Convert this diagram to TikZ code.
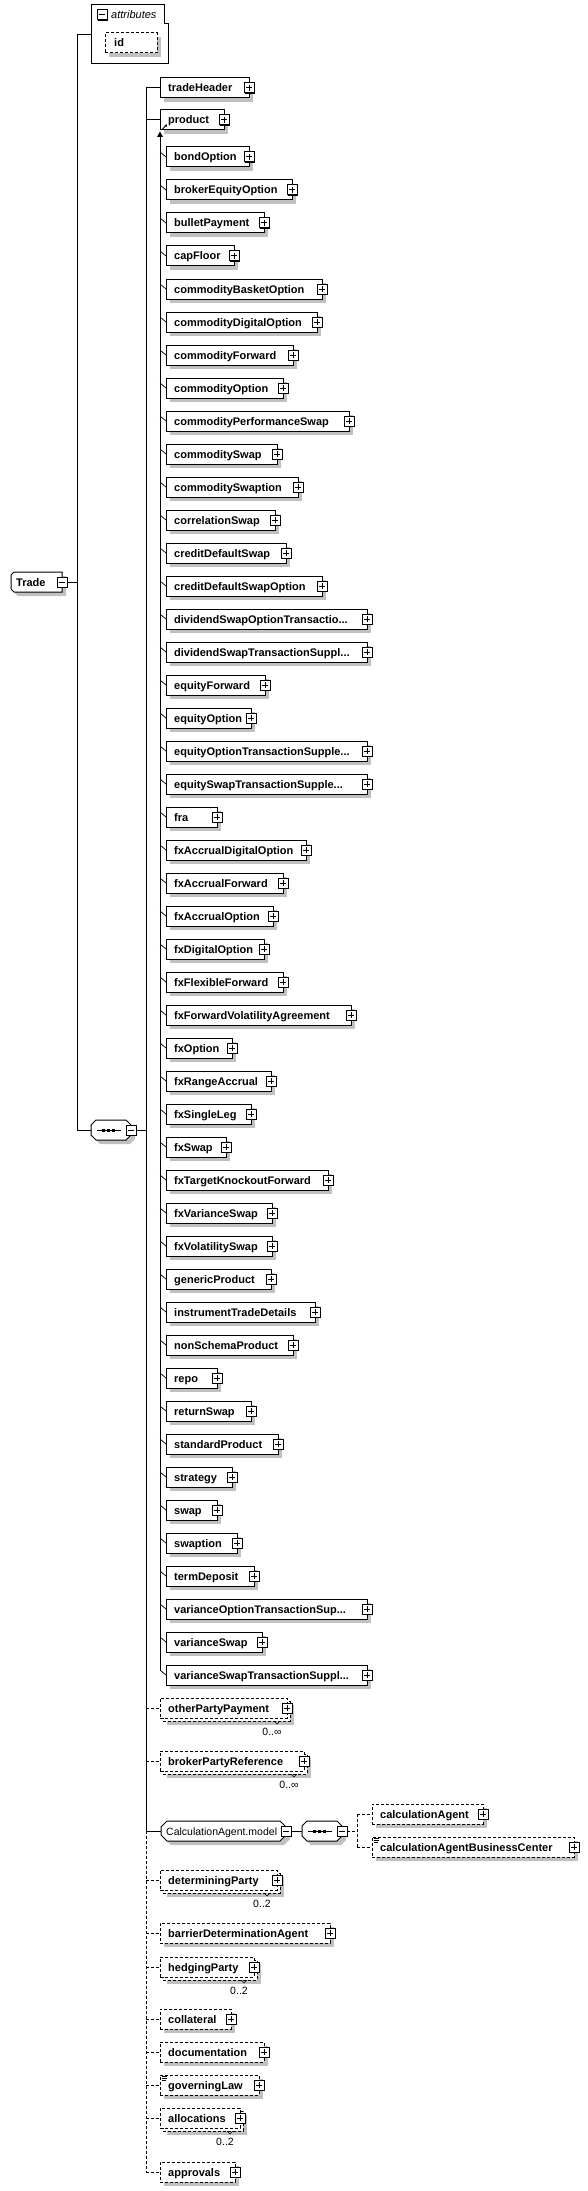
\documentclass[tikz,border=0pt]{standalone}
\usepackage{fontspec}
\setmainfont{Liberation Sans}
\usetikzlibrary{calc,arrows.meta}
\definecolor{shd}{RGB}{192,192,192}
\newcommand{\tdots}{...}
\tikzset{
  ln/.style={line width=1pt},
  dsh/.style={line width=1pt, dash pattern=on 3pt off 2pt},
  elbox/.style={draw=black, fill=white, line width=1pt, minimum height=20pt, inner sep=0pt, outer sep=0pt, anchor=north west},
  optbox/.style={elbox, dash pattern=on 3pt off 2pt},
  eltext/.style={font=\fontsize{11}{13}\selectfont\bfseries, inner sep=0pt, anchor=base west},
  occ/.style={font=\fontsize{10.5}{12}\selectfont, inner sep=0pt},
  grptext/.style={font=\fontsize{10.5}{12}\selectfont, inner sep=0pt, anchor=base west},
}
\newcommand{\pbox}[3]{%
  \fill[black] (#1-4,#2-4) rectangle (#1+6,#2+6);
  \filldraw[fill=white,draw=black,line width=1pt] (#1-5,#2-5) rectangle (#1+5,#2+5);
  \draw[line width=1pt] (#1-3,#2) -- (#1+3,#2);
  \ifnum#3=1 \draw[line width=1pt] (#1,#2-3) -- (#1,#2+3);\fi
}
\newcommand{\relem}[5]{%
  \fill[shd] (#2+4,#3+4) rectangle (#4+4,#3+24);
  \node[elbox, minimum width={#4-#2}] (#1) at (#2,#3) {};
  \node[eltext] (#1t) at ($(#1.west)+(8,4)$) {#5};
  \pbox{#4}{#3+10}{1}
}
\newcommand{\oelem}[5]{%
  \fill[shd] (#2+4,#3+4) rectangle (#4+4,#3+24);
  \node[optbox, minimum width={#4-#2}] (#1) at (#2,#3) {};
  \node[eltext] (#1t) at ($(#1.west)+(8,4)$) {#5};
  \pbox{#4}{#3+10}{1}
}
\newcommand{\melem}[6]{%
  \fill[shd] (#2+7,#3+7) rectangle (#4+7,#3+27);
  \draw[dsh, fill=white] (#2+3,#3+3) rectangle (#4+3,#3+23);
  \node[optbox, minimum width={#4-#2}] (#1) at (#2,#3) {};
  \node[eltext] (#1t) at ($(#1.west)+(8,4)$) {#5};
  \pbox{#4}{#3+10}{1}
  \draw[line width=0.6pt] (#4-13,#3+23) -- (#4-10,#3+26) -- (#4-7,#3+23);
  \node[occ] (#1o) at (#4-15,#3+34) {#6};
}
\newcommand{\docicon}[2]{%
  \draw[line width=0.8pt] (#1+1.5,#2+1.5) -- (#1+6.5,#2+1.5) (#1+1.5,#2+3.5) -- (#1+6.5,#2+3.5) (#1+1.5,#2+5.5) -- (#1+5.5,#2+5.5);
}
\newcommand{\octo}[5]{%
  \begin{scope}[shift={(4,4)}]
  \fill[shd] (#1+#5,#2) -- (#3-#5,#2) -- (#3,#2+#5) -- (#3,#4-#5) -- (#3-#5,#4) -- (#1+#5,#4) -- (#1,#4-#5) -- (#1,#2+#5) -- cycle;
  \end{scope}
  \filldraw[fill=white, draw=black, line width=1pt] (#1+#5,#2) -- (#3-#5,#2) -- (#3,#2+#5) -- (#3,#4-#5) -- (#3-#5,#4) -- (#1+#5,#4) -- (#1,#4-#5) -- (#1,#2+#5) -- cycle;
}
\newcommand{\seqsym}[3]{%
  \octo{#1}{#2}{#1+40}{#2+20}{5}
  \draw[line width=1pt] (#1+6,#2+10) -- (#1+30,#2+10);
  \foreach \dd in {-5,0,5} \fill (#1+17+\dd-1.5,#2+8.5) rectangle (#1+17+\dd+1.5,#2+11.5);
  \pbox{#1+40}{#2+10}{0}
  \coordinate (#3w) at (#1,#2+10);
  \coordinate (#3e) at (#1+45,#2+10);
}
\begin{document}
\begin{tikzpicture}[x=1pt,y=-1pt]
\useasboundingbox (0,0) rectangle (587,2191);
\fill[white] (0,0) rectangle (587,2191);

% attributes
\filldraw[fill=white,draw=black,line width=1pt] (91,5) -- (164,5) -- (164,24) -- (168,24) -- (168,64) -- (91,64) -- cycle;
\pbox{102}{15}{0}
\node[font=\fontsize{11}{13}\selectfont\itshape, inner sep=0pt, anchor=base west] (attrt) at (111,19) {attributes};
\fill[shd] (109,37) rectangle (161,57);
\node[optbox, minimum width=52pt] (id) at (105,33) {};
\node[eltext] (idt) at ($(id.west)+(9,4)$) {id};
\coordinate (attr) at (91,35);

% Trade
\begin{scope}[shift={(4,4)}]
\fill[shd] (14,572) -- (62,572) -- (62,592) -- (14,592) -- (11,589) -- (11,575) -- cycle;
\end{scope}
\filldraw[fill=white,draw=black,line width=1pt] (14,572) -- (62,572) -- (62,592) -- (14,592) -- (11,589) -- (11,575) -- cycle;
\node[eltext] (tradet) at (16,586) {Trade};
\pbox{62}{582}{0}
\coordinate (trade) at (67,582);

% sequence under Trade
\seqsym{91}{1120}{seqA}

% top children
\relem{th}{160}{78}{249}{tradeHeader}
\relem{prod}{160}{110}{224}{product}
\draw[-{Stealth[length=2.5pt,width=3pt]}, line width=0.9pt] (162.5,129) -- (167,124.5);

% substitution group line
\fill (157,137) -- (160,131.5) -- (163,137) -- cycle;
\draw[ln] (160,136) -- (160,1670);

\foreach \rx/\nm [count=\idx] in {249/bondOption, 292/brokerEquityOption, 264/bulletPayment, 234/capFloor, 322/commodityBasketOption, 317/commodityDigitalOption, 293/commodityForward, 283/commodityOption, 349/commodityPerformanceSwap, 277/commoditySwap, 298/commoditySwaption, 275/correlationSwap, 286/creditDefaultSwap, 322/creditDefaultSwapOption, 367/dividendSwapOptionTransactio\tdots, 367/dividendSwapTransactionSuppl\tdots, 265/equityForward, 251/equityOption, 367/equityOptionTransactionSupple\tdots, 367/equitySwapTransactionSupple\tdots, 217/fra, 306/fxAccrualDigitalOption, 283/fxAccrualForward, 273/fxAccrualOption, 264/fxDigitalOption, 283/fxFlexibleForward, 351/fxForwardVolatilityAgreement, 232/fxOption, 271/fxRangeAccrual, 251/fxSingleLeg, 226/fxSwap, 328/fxTargetKnockoutForward, 272/fxVarianceSwap, 272/fxVolatilitySwap, 271/genericProduct, 315/instrumentTradeDetails, 293/nonSchemaProduct, 217/repo, 251/returnSwap, 278/standardProduct, 232/strategy, 217/swap, 237/swaption, 254/termDeposit, 367/varianceOptionTransactionSup\tdots, 262/varianceSwap, 367/varianceSwapTransactionSuppl\tdots}{
  \pgfmathsetmacro\yy{147+33*(\idx-1)}
  \draw[line width=0.7pt] (160,\yy+5) -- (166,\yy+10);
  \relem{m\idx}{166}{\yy}{\rx}{\nm}
}

% optional children
\melem{opp}{160}{1698}{287}{otherPartyPayment}{0..∞}
\melem{bpr}{160}{1751}{304}{brokerPartyReference}{0..∞}
\melem{dp}{160}{1870}{277}{determiningParty}{0..2}
\oelem{bda}{160}{1923}{330}{barrierDeterminationAgent}
\melem{hp}{160}{1957}{254}{hedgingParty}{0..2}
\oelem{col}{160}{2009}{231}{collateral}
\oelem{doc}{160}{2042}{264}{documentation}
\oelem{gl}{160}{2075}{259}{governingLaw}
\docicon{160}{2075}
\melem{alc}{160}{2108}{240}{allocations}{0..2}
\oelem{apv}{160}{2162}{235}{approvals}

% CalculationAgent.model group
\octo{161}{1821}{286}{1841}{6}
\node[grptext] (camt) at (166,1835) {CalculationAgent.model};
\pbox{286}{1831}{0}
\coordinate (cam) at (161,1831);
\coordinate (camE) at (291,1831);
\seqsym{302}{1821}{seqB}
\oelem{ca}{372}{1804}{483}{calculationAgent}
\oelem{cabc}{372}{1837}{574}{calculationAgentBusinessCenter}
\docicon{372}{1837}

% connectors
\coordinate (tb) at (77,0);
\coordinate (mb) at (146,0);
\coordinate (cb) at (357,0);
\draw[ln] (tb |- attr) -- (attr);
\draw[ln] (tb |- attr) -- (tb |- seqAw) -- (seqAw);
\draw[ln] (trade) -- (tb |- trade);
\draw[ln] (seqAe) -- (mb |- seqAe);
\draw[ln] (mb |- th.west) -- (mb |- cam);
\draw[dsh] (mb |- cam) -- (mb |- apv.west);
\draw[ln] (mb |- th.west) -- (th.west);
\draw[ln] (mb |- prod.west) -- (prod.west);
\draw[ln] (mb |- cam) -- (cam);
\foreach \n in {opp,bpr,dp,bda,hp,col,doc,gl,alc,apv} \draw[dsh] (mb |- \n.west) -- (\n.west);
\draw[ln] (camE) -- (seqBw);
\draw[dsh] (seqBe) -- (cb |- seqBe);
\draw[dsh] (cb |- ca.west) -- (cb |- cabc.west);
\draw[dsh] (cb |- ca.west) -- (ca.west);
\draw[dsh] (cb |- cabc.west) -- (cabc.west);
\end{tikzpicture}
\end{document}
